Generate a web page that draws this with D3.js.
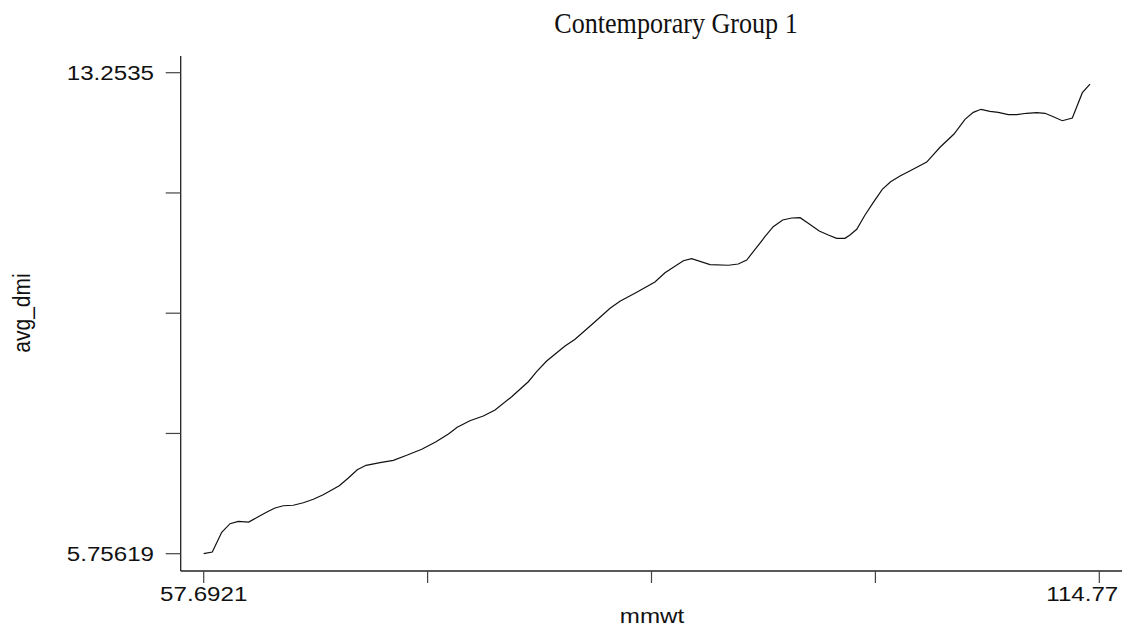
<!DOCTYPE html>
<html>
<head>
<meta charset="utf-8">
<script src="https://cdn.jsdelivr.net/npm/d3@7"></script>
<style>
  body { margin: 0; background: #fff; }
  svg { display: block; }
  .tick-label, .axis-title { font-family: "Liberation Sans", Arial, sans-serif; fill: #111; }
  .chart-title { font-family: "Liberation Serif", "Times New Roman", serif; fill: #111; }
</style>
</head>
<body>
<svg id="chart" width="1130" height="633"></svg>
<script>
// smoothed avg_dmi against mmwt
const mmwt = [
  57.69, 58.24, 58.84, 59.37, 59.90, 60.56, 61.17, 61.75, 62.24, 62.76,
  63.40, 64.04, 64.68, 65.31, 65.85, 66.33, 66.91, 67.48, 68.04, 68.93,
  69.78, 70.63, 71.59, 72.47, 73.29, 73.85, 74.66, 75.51, 76.26, 77.32,
  78.38, 78.91, 79.55, 80.72, 81.36, 82.63, 83.59, 84.22, 85.29, 86.45,
  87.09, 88.26, 88.79, 89.96, 91.13, 91.76, 92.30, 93.46, 93.99, 94.59,
  95.17, 95.70, 96.22, 96.92, 97.50, 98.03, 98.56, 98.88, 99.31, 99.84,
  100.37, 100.94, 101.47, 102.07, 102.81, 103.77, 104.62, 105.51, 106.21, 106.74,
  107.23, 107.80, 108.33, 108.97, 109.51, 110.14, 110.78, 111.31, 111.88, 112.41,
  113.05, 113.69, 114.18
];
const avgDmi = [
  5.756, 5.783, 6.090, 6.224, 6.261, 6.250, 6.333, 6.411, 6.468, 6.504,
  6.511, 6.551, 6.604, 6.676, 6.749, 6.816, 6.936, 7.065, 7.134, 7.175,
  7.212, 7.290, 7.385, 7.497, 7.622, 7.726, 7.829, 7.903, 7.996, 8.203,
  8.437, 8.593, 8.760, 8.994, 9.098, 9.372, 9.581, 9.690, 9.831, 9.991,
  10.136, 10.323, 10.354, 10.261, 10.252, 10.272, 10.334, 10.697, 10.853, 10.958,
  10.989, 10.994, 10.906, 10.786, 10.724, 10.672, 10.672, 10.724, 10.813, 11.035,
  11.233, 11.436, 11.554, 11.643, 11.737, 11.861, 12.091, 12.298, 12.527, 12.636,
  12.683, 12.652, 12.636, 12.599, 12.599, 12.621, 12.630, 12.621, 12.563, 12.505,
  12.547, 12.942, 13.077
];

const xTicks = [57.6921, 71.9616, 86.2311, 100.5005, 114.77];
const xTickLabels = ["57.6921", "", "", "", "114.77"];
const yTicks = [5.75619, 7.63052, 9.50485, 11.37917, 13.2535];
const yTickLabels = ["5.75619", "", "", "", "13.2535"];

const svg = d3.select('#chart');

const x = d3.scaleLinear().domain([xTicks[0], xTicks[4]]).range([203.7, 1099.3]);
const y = d3.scaleLinear().domain([yTicks[0], yTicks[4]]).range([553.7, 72.7]);

const axisX = 571, axisY = 180.7;
const stretch = 1.15;

// axis lines
svg.append('line').attr('x1', axisY).attr('x2', 1122).attr('y1', axisX).attr('y2', axisX)
  .attr('stroke', '#222').attr('stroke-width', 1.3);
svg.append('line').attr('x1', axisY).attr('x2', axisY).attr('y1', 56).attr('y2', axisX)
  .attr('stroke', '#222').attr('stroke-width', 1.3);

// x ticks
const gx = svg.append('g');
gx.selectAll('line').data(xTicks).join('line')
  .attr('x1', d => x(d)).attr('x2', d => x(d))
  .attr('y1', axisX).attr('y2', axisX + 12)
  .attr('stroke', '#444').attr('stroke-width', 1.2);
gx.selectAll('text').data(xTicks).join('text')
  .attr('class', 'tick-label')
  .attr('text-anchor', 'middle')
  .attr('font-size', 21)
  .attr('transform', d => `translate(${x(d)},${600.5}) scale(${stretch},1)`)
  .text((d, i) => xTickLabels[i]);
// last label sits flush with its tick on the right side
gx.selectAll('text').filter((d, i) => i === xTicks.length - 1)
  .attr('text-anchor', 'end')
  .attr('transform', d => `translate(${x(d) + 19},${600.5}) scale(${stretch},1)`);

// y ticks
const gy = svg.append('g');
gy.selectAll('line').data(yTicks).join('line')
  .attr('x1', axisY - 15).attr('x2', axisY)
  .attr('y1', d => y(d)).attr('y2', d => y(d))
  .attr('stroke', '#444').attr('stroke-width', 1.2);
gy.selectAll('text').data(yTicks).join('text')
  .attr('class', 'tick-label')
  .attr('text-anchor', 'end')
  .attr('font-size', 21)
  .attr('transform', d => `translate(${154},${y(d) + 7.5}) scale(${stretch},1)`)
  .text((d, i) => yTickLabels[i]);

// the smoothed line
const line = d3.line().x(d => x(d[0])).y(d => y(d[1]));
svg.append('path')
  .datum(d3.zip(mmwt, avgDmi))
  .attr('d', line)
  .attr('fill', 'none')
  .attr('stroke', '#111')
  .attr('stroke-width', 1.2);

// titles
svg.append('text').attr('class', 'chart-title')
  .attr('text-anchor', 'middle').attr('font-size', 29)
  .attr('transform', 'translate(676,33) scale(0.9,1)')
  .text('Contemporary Group 1');

svg.append('text').attr('class', 'axis-title')
  .attr('text-anchor', 'middle').attr('font-size', 21)
  .attr('transform', `translate(652,623) scale(${stretch},1)`)
  .text('mmwt');

svg.append('text').attr('class', 'axis-title')
  .attr('text-anchor', 'middle').attr('font-size', 21)
  .attr('transform', `translate(30,313) scale(${stretch},1) rotate(-90)`)
  .text('avg_dmi');
</script>
</body>
</html>
